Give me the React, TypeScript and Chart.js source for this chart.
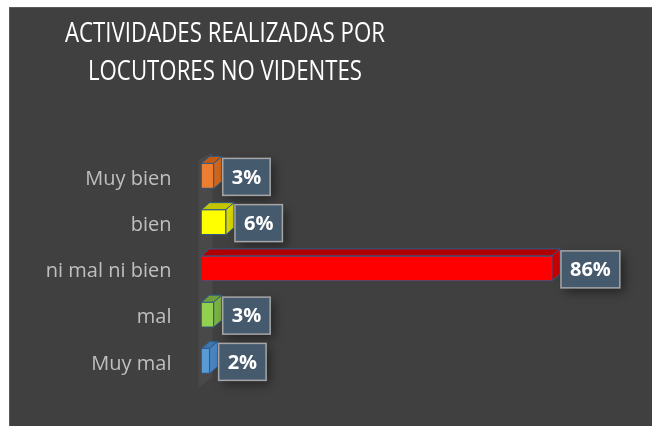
import React, { useEffect, useRef } from 'react';
import { Chart, registerables } from 'chart.js';

Chart.register(...registerables);

const categories = ['Muy bien', 'bien', 'ni mal ni bien', 'mal', 'Muy mal'];
const values = [3, 6, 86, 3, 2];
const titleLines = ['ACTIVIDADES REALIZADAS POR', 'LOCUTORES NO VIDENTES'];
const frontColors = ['#ED7D31', '#FFFF00', '#FF0000', '#92D050', '#5B9BD5'];
const topColors = ['#C55A11', '#C4C400', '#B00000', '#6F9E3A', '#3F75AD'];
const sideColors = ['#D0661C', '#D6D600', '#C80000', '#7CB043', '#4A85C2'];

const DX = 8;
const DY = 7;
const EDGE = '#2E5A88';

const wallPlugin = {
  id: 'wall3d',
  beforeDatasetsDraw(chart: any) {
    const { ctx, chartArea } = chart;
    const ox = chart.scales.x.getPixelForValue(0);
    ctx.save();
    ctx.fillStyle = 'rgba(255,255,255,0.05)';
    ctx.beginPath();
    ctx.moveTo(ox - 3, chartArea.top + DY);
    ctx.lineTo(ox + DX + 3, chartArea.top);
    ctx.lineTo(ox + DX + 3, chartArea.bottom - DY);
    ctx.lineTo(ox - 3, chartArea.bottom + 4);
    ctx.closePath();
    ctx.fill();
    ctx.restore();
  },
};

const barsPlugin = {
  id: 'bars3d',
  afterDatasetsDraw(chart: any) {
    const { ctx } = chart;
    const meta = chart.getDatasetMeta(0);
    meta.data.forEach((bar: any, i: number) => {
      const { x, y, base, height } = bar.getProps(['x', 'y', 'base', 'height'], true);
      const top = y - height / 2;
      const bottom = y + height / 2;
      ctx.save();
      ctx.lineWidth = 1;
      ctx.strokeStyle = EDGE;
      ctx.lineJoin = 'round';
      ctx.beginPath();
      ctx.moveTo(base, top);
      ctx.lineTo(base + DX, top - DY);
      ctx.lineTo(x + DX, top - DY);
      ctx.lineTo(x, top);
      ctx.closePath();
      ctx.fillStyle = topColors[i];
      ctx.fill();
      ctx.stroke();
      ctx.beginPath();
      ctx.moveTo(x, top);
      ctx.lineTo(x + DX, top - DY);
      ctx.lineTo(x + DX, bottom - DY);
      ctx.lineTo(x, bottom);
      ctx.closePath();
      ctx.fillStyle = sideColors[i];
      ctx.fill();
      ctx.stroke();
      ctx.restore();

      const text = values[i] + '%';
      ctx.save();
      ctx.font = 'bold 20px "Open Sans"';
      const tw = ctx.measureText(text).width;
      const bw = tw + 18;
      const bh = 37;
      const bx = x + DX + 1;
      const by = y + 1 - bh / 2;
      ctx.shadowColor = 'rgba(0,0,0,0.45)';
      ctx.shadowBlur = 10;
      ctx.shadowOffsetX = 4;
      ctx.shadowOffsetY = 4;
      ctx.fillStyle = '#465A6E';
      ctx.fillRect(bx, by, bw, bh);
      ctx.shadowColor = 'transparent';
      ctx.lineWidth = 1.5;
      ctx.strokeStyle = '#A6A6A6';
      ctx.strokeRect(bx, by, bw, bh);
      ctx.fillStyle = '#FFFFFF';
      ctx.textAlign = 'center';
      ctx.textBaseline = 'middle';
      ctx.fillText(text, bx + bw / 2, by + bh / 2 + 1);
      ctx.restore();
    });
  },
};

const titlePlugin = {
  id: 'customTitle',
  afterDraw(chart: any) {
    const { ctx } = chart;
    ctx.save();
    ctx.font = '27px "Open Sans"';
    ctx.fillStyle = '#FFFFFF';
    ctx.textAlign = 'center';
    ctx.textBaseline = 'alphabetic';
    const w = ctx.measureText(titleLines[0]).width;
    const sx = 320 / w;
    ctx.translate(216, 0);
    ctx.scale(sx, 1);
    ctx.fillText(titleLines[0], 0, 35);
    ctx.fillText(titleLines[1], 0, 73);
    ctx.restore();
  },
};

export default function App() {
  const ref = useRef<HTMLCanvasElement | null>(null);

  useEffect(() => {
    document.documentElement.style.background = '#404040';
    document.body.style.background = '#404040';
    document.body.style.margin = '0';
    if (!ref.current) return;
    const chart = new Chart(ref.current, {
      type: 'bar',
      data: {
        labels: categories,
        datasets: [
          {
            data: values,
            backgroundColor: frontColors,
            borderColor: EDGE,
            borderWidth: 1,
            barThickness: 25,
          },
        ],
      },
      options: {
        animation: false,
        responsive: false,
        maintainAspectRatio: false,
        indexAxis: 'y',
        layout: { padding: { top: 145.75, right: 43, bottom: 30.75, left: 0 } },
        plugins: {
          legend: { display: false },
          tooltip: { enabled: false },
          title: { display: false },
        },
        scales: {
          x: { display: false, min: 0, max: 100 },
          y: {
            grid: { display: false, drawTicks: false },
            border: { display: false },
            ticks: {
              color: '#BFBFBF',
              font: { family: 'Open Sans', size: 20 },
              padding: 30,
              labelOffset: 3,
            },
            afterFit: (s: any) => {
              s.width = 192.5;
            },
          },
        },
      },
      plugins: [wallPlugin, barsPlugin, titlePlugin],
    } as any);
    return () => chart.destroy();
  }, []);

  return (
    <div style={{ position: 'fixed', left: 0, top: 0, right: 0, bottom: 0, background: '#404040' }}>
      <div style={{ position: 'absolute', left: 0, top: 0, right: 0, height: 7, background: '#FFFFFF' }} />
      <div style={{ position: 'absolute', left: 0, top: 0, bottom: 0, width: 9, background: '#FFFFFF' }} />
      <div
        style={{
          position: 'absolute',
          left: 9,
          top: 7,
          right: 0,
          bottom: 0,
          boxShadow: 'inset 1px 1px 0 #5A5A5A',
        }}
      >
        <canvas ref={ref} width={643} height={419} style={{ position: 'absolute', left: 0, top: 0 }} />
      </div>
    </div>
  );
}
